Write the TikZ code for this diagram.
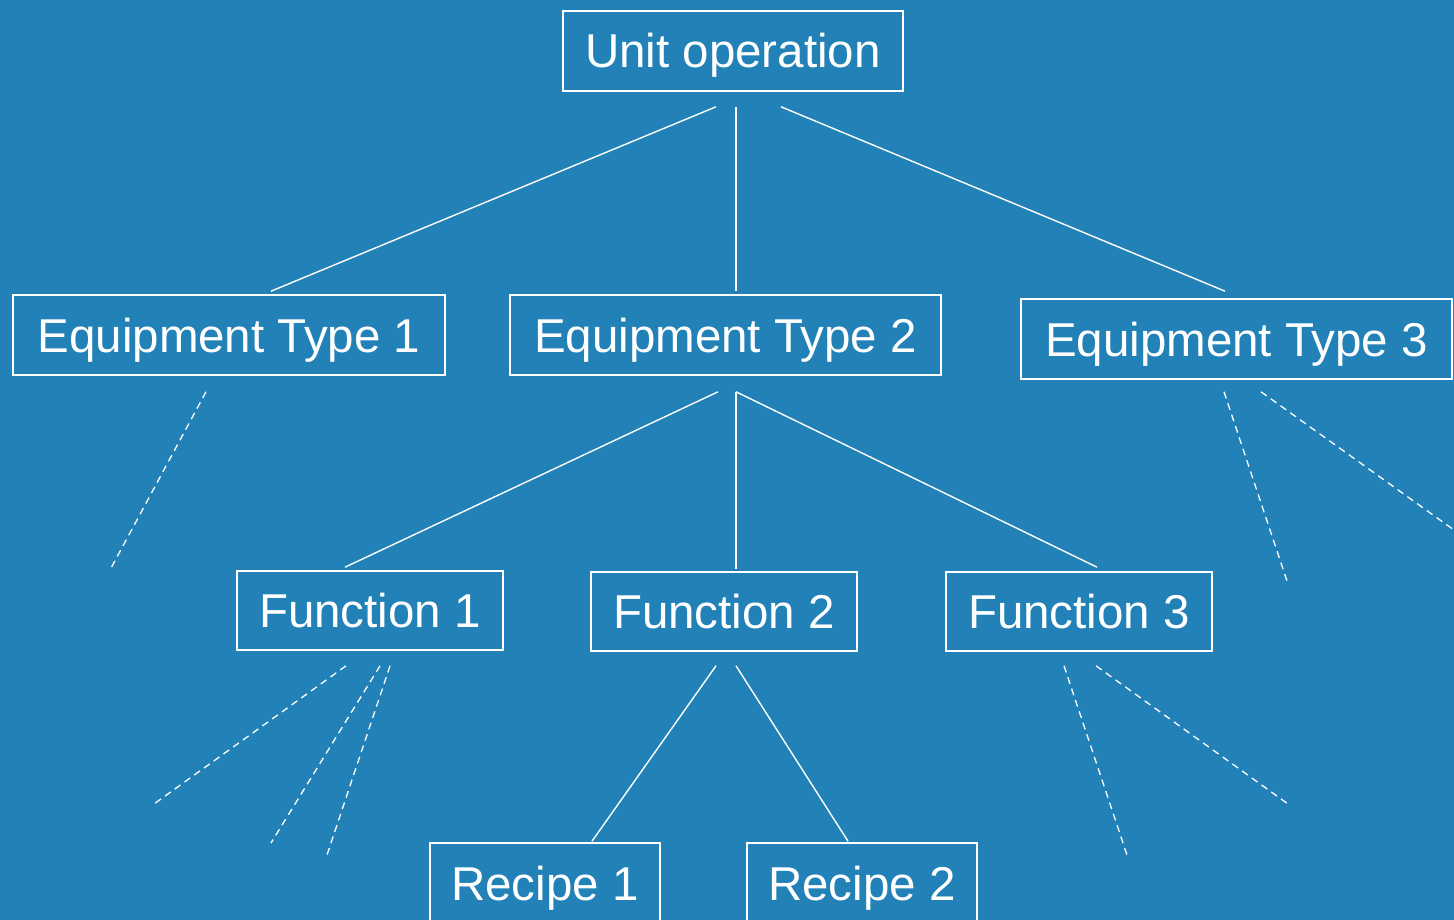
\documentclass[tikz,border=0pt]{standalone}
\usepackage{fontspec}
\setmainfont{Liberation Sans}
\definecolor{bgblue}{RGB}{34,130,184}
\tikzset{
  box/.style={draw=white, line width=1.6pt, text=white, inner sep=0pt,
    font=\fontsize{47.5}{56}\selectfont, text height=34pt, text depth=0pt},
  link/.style={draw=white, line width=1.4pt},
  stub/.style={draw=white, line width=1.3pt, dash pattern=on 7pt off 5pt},
}
\begin{document}
\begin{tikzpicture}[x=1pt,y=-1pt]
\fill[bgblue] (0,0) rectangle (1454,920);
\useasboundingbox (0,0) rectangle (1454,920);
\clip (0,0) rectangle (1454,920);

% hierarchy boxes
\node[box, minimum width=340, minimum height=80] (uo)  at (733,51)     {Unit operation};
\node[box, minimum width=432, minimum height=80] (et1) at (229,335)    {Equipment Type 1};
\node[box, minimum width=431, minimum height=80] (et2) at (725.5,335)  {Equipment Type 2};
\node[box, minimum width=431, minimum height=80] (et3) at (1236.5,339) {Equipment Type 3};
\node[box, minimum width=266, minimum height=79] (f1)  at (370,610.5)  {Function 1};
\node[box, minimum width=266, minimum height=79] (f2)  at (724,611.5)  {Function 2};
\node[box, minimum width=266, minimum height=79] (f3)  at (1079,611.5) {Function 3};
\node[box, minimum width=230, minimum height=80] (r1)  at (545,883)    {Recipe 1};
\node[box, minimum width=230, minimum height=80] (r2)  at (862,883)    {Recipe 2};

% solid links
\draw[link] ([shift={(-17,15)}]uo.south) -- ([shift={(42,-3)}]et1.north);
\draw[link] ([shift={(3,15)}]uo.south)   -- ([shift={(10.5,-3)}]et2.north);
\draw[link] ([shift={(48,15)}]uo.south)  -- ([shift={(-11.5,-7)}]et3.north);
\draw[link] ([shift={(-7.5,16)}]et2.south) -- ([shift={(-25,-3)}]f1.north);
\draw[link] ([shift={(10.5,16)}]et2.south) -- ([shift={(12,-2)}]f2.north);
\draw[link] ([shift={(10.5,16)}]et2.south) -- ([shift={(18,-4)}]f3.north);
\draw[link] ([shift={(-8,14)}]f2.south) -- ([shift={(47,-1)}]r1.north);
\draw[link] ([shift={(12,14)}]f2.south) -- ([shift={(-14,-1)}]r2.north);

% open-ended dashed branches
\coordinate (e1a) at (110,570);
\coordinate (f1a) at (154,804);
\coordinate (f1b) at (271,843);
\coordinate (f1c) at (326,858);
\coordinate (f3a) at (1128,858);
\coordinate (f3b) at (1288,804);
\coordinate (e3a) at (1288,584);
\coordinate (e3b) at (1454,530);

\draw[stub] ([shift={(-23,16)}]et1.south) -- (e1a);
\draw[stub] ([shift={(-24,15)}]f1.south) -- (f1a);
\draw[stub] ([shift={(10,15)}]f1.south) -- (f1b);
\draw[stub] ([shift={(20,15)}]f1.south) -- (f1c);
\draw[stub] ([shift={(-15,14)}]f3.south) -- (f3a);
\draw[stub] ([shift={(17,14)}]f3.south) -- (f3b);
\draw[stub] ([shift={(-12.5,12)}]et3.south) -- (e3a);
\draw[stub] ([shift={(24.5,12)}]et3.south) -- (e3b);
\end{tikzpicture}
\end{document}
